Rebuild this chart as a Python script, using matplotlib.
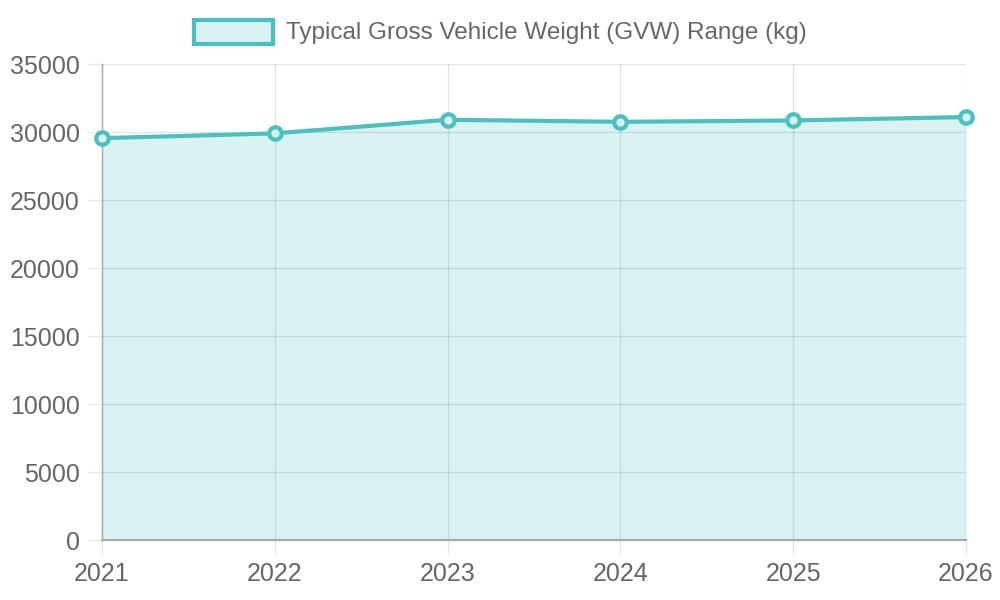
import matplotlib
matplotlib.use("Agg")
import matplotlib.pyplot as plt
from matplotlib.patches import Rectangle

years = [2021, 2022, 2023, 2024, 2025, 2026]
gvw = [29550, 29900, 30900, 30750, 30850, 31100]
series_label = "Typical Gross Vehicle Weight (GVW) Range (kg)"
yticks = [0, 5000, 10000, 15000, 20000, 25000, 30000, 35000]

plt.rcParams['font.family'] = ['Liberation Sans', 'DejaVu Sans']
line_c = (75/255, 192/255, 192/255)
fill_c = (75/255, 192/255, 192/255, 0.2)
text_c = '#666666'
tick_c = '#e6e6e6'
axis_c = '#a8a8a8'

fig = plt.figure(figsize=(10, 6), dpi=100)
ax = fig.add_axes([0.102, 0.1, 0.864, 0.7933])

ax.fill_between(years, gvw, 0, color=fill_c, linewidth=0, zorder=0.2)
ax.plot(years, gvw, color=line_c, linewidth=3, zorder=3,
        marker='o', markersize=9, markeredgewidth=3,
        markerfacecolor=(0.85, 0.94, 0.94), markeredgecolor=line_c, clip_on=False)

ax.set_xlim(2021, 2026)
ax.set_ylim(0, 35000)
ax.set_xticks(years)
ax.set_xticklabels([str(y) for y in years])
ax.set_yticks(yticks)
ax.set_yticklabels([str(v) for v in yticks])

ax.set_axisbelow(True)
ax.grid(True, color='black', alpha=0.1, linewidth=1)
for s in ['top', 'right']:
    ax.spines[s].set_visible(False)
ax.spines['left'].set_color(axis_c)
ax.spines['left'].set_linewidth(1)
ax.spines['bottom'].set_color(axis_c)
ax.spines['bottom'].set_linewidth(1.5)
ax.tick_params(axis='both', color=tick_c, labelcolor=text_c,
               labelsize=18, length=10, width=1, pad=6)

# legend
fig.patches.append(Rectangle((194/1000, 1 - 44/600), 79/1000, 24/600,
                             transform=fig.transFigure, facecolor=fill_c,
                             edgecolor=line_c, linewidth=3))
fig.text(286/1000, 1 - 33/600, series_label, color=text_c, fontsize=17.5,
         va='center', ha='left')

fig.savefig('out.png', dpi=100)
